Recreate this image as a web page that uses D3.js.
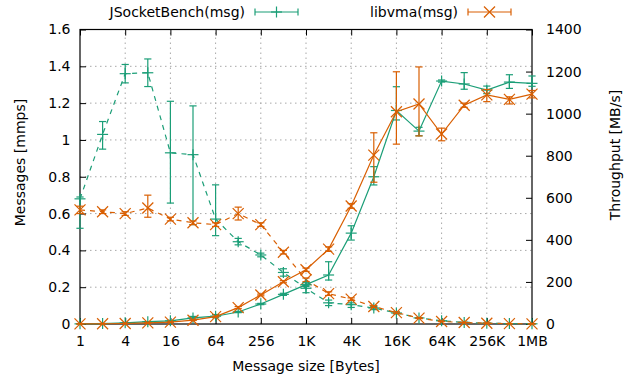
<!DOCTYPE html>
<html>
<head>
<meta charset="utf-8">
<script src="https://cdn.jsdelivr.net/npm/d3@7"></script>
<style>
html,body{margin:0;padding:0;background:#fff;}
text{font-family:"DejaVu Sans",sans-serif;fill:#000;}
</style>
</head>
<body>
<svg id="chart" width="629" height="379"></svg>
<script>
// message sizes: powers of two 2^0 .. 2^20 bytes
const exponents = d3.range(0, 21);
const sizes = exponents.map(e => Math.pow(2, e));
const xTickExps = [0, 2, 4, 6, 8, 10, 12, 14, 16, 18, 20];
const xTickLabels = ["1", "4", "16", "64", "256", "1K", "4K", "16K", "64K", "256K", "1MB"];
const yLeftTicks = [0, 0.2, 0.4, 0.6, 0.8, 1, 1.2, 1.4, 1.6];
const yRightTicks = [0, 200, 400, 600, 800, 1000, 1200, 1400];

// JSocketBench message rate [mmps]
const jsbMsg   = [0.68, 1.03, 1.36, 1.365, 0.93, 0.92, 0.57, 0.447, 0.375, 0.28, 0.194, 0.115, 0.105, 0.087, 0.06, 0.033, 0.0176, 0.0087, 0.0042, 0.0022, 0.0011];
const jsbMsgLo = [0.52, 0.95, 1.31, 1.29, 0.657, 0.54, 0.48, 0.43, 0.365, 0.26, 0.17, 0.10, 0.09, 0.078, 0.055, 0.031, 0.0165, 0.008, 0.004, 0.002, 0.001];
const jsbMsgHi = [0.69, 1.10, 1.41, 1.44, 1.21, 1.185, 0.756, 0.465, 0.385, 0.30, 0.21, 0.13, 0.115, 0.095, 0.065, 0.035, 0.0185, 0.009, 0.0045, 0.0023, 0.0012];

// libvma message rate [mmps]
const vmaMsg   = [0.62, 0.61, 0.60, 0.63, 0.57, 0.55, 0.54, 0.60, 0.54, 0.39, 0.24, 0.165, 0.135, 0.095, 0.062, 0.032, 0.0138, 0.0079, 0.0042, 0.002, 0.001];
const vmaMsgLo = [0.60, 0.60, 0.59, 0.58, 0.56, 0.54, 0.53, 0.565, 0.53, 0.38, 0.23, 0.155, 0.128, 0.09, 0.058, 0.03, 0.013, 0.0075, 0.004, 0.0019, 0.001];
const vmaMsgHi = [0.64, 0.62, 0.61, 0.70, 0.58, 0.56, 0.55, 0.635, 0.55, 0.40, 0.25, 0.175, 0.142, 0.10, 0.066, 0.034, 0.0145, 0.0082, 0.0044, 0.0021, 0.0011];

// JSocketBench throughput [MB/s]
const jsbTput   = [0.7, 2.1, 5.4, 11, 15, 29, 37, 57, 95, 141, 187, 233, 432, 700, 1015, 917, 1155, 1141, 1112, 1150, 1144];
const jsbTputLo = [0.6, 1.9, 5.2, 10.5, 12, 20, 30, 54, 92, 136, 178, 209, 399, 661, 970, 895, 1150, 1116, 1095, 1120, 1130];
const jsbTputHi = [0.8, 2.3, 5.6, 11.5, 18, 36, 45, 60, 98, 146, 196, 296, 467, 748, 1128, 935, 1160, 1195, 1131, 1185, 1179];

// libvma throughput [MB/s]
const vmaTput   = [0.6, 1.2, 2.4, 5, 9, 18, 35, 78, 138, 201, 258, 356, 561, 803, 1009, 1046, 903, 1040, 1089, 1068, 1093];
const vmaTputLo = [0.55, 1.15, 2.3, 4.6, 8.8, 17.5, 34, 73, 134, 196, 250, 345, 550, 674, 855, 894, 871, 1030, 1057, 1046, 1075];
const vmaTputHi = [0.65, 1.25, 2.5, 5.5, 9.2, 18.5, 36, 83, 142, 206, 266, 367, 572, 909, 1199, 1222, 931, 1050, 1115, 1080, 1110];

const seriesNames = ["JSocketBench(msg)", "libvma(msg)"];
const colors = ["#1b9e77", "#d95f02"];

const svg = d3.select("#chart");
const L = 80, R = 532, T = 29.5, B = 324;

const x = d3.scaleLog().base(2).domain([1, Math.pow(2, 20)]).range([L, R]);
const yL = d3.scaleLinear().domain([0, 1.6]).range([B, T]);
const yR = d3.scaleLinear().domain([0, 1400]).range([B, T]);

// grid
const grid = svg.append("g").attr("stroke", "#a8a8a8").attr("stroke-width", 1)
  .attr("stroke-dasharray", "1.5,3.5");
xTickExps.slice(1, -1).forEach(e => {
  grid.append("line").attr("x1", x(Math.pow(2, e))).attr("x2", x(Math.pow(2, e)))
    .attr("y1", B).attr("y2", T);
});
yLeftTicks.slice(1, -1).forEach(v => {
  grid.append("line").attr("x1", L).attr("x2", R).attr("y1", yL(v)).attr("y2", yL(v));
});

// axes
const fs = "14px";
const xAxis = d3.axisBottom(x).tickValues(xTickExps.map(e => Math.pow(2, e)))
  .tickFormat((d, i) => xTickLabels[i]).tickSizeInner(-6).tickSizeOuter(0).tickPadding(12);
const gx = svg.append("g").attr("transform", `translate(0,${B})`).call(xAxis);
const xTop = d3.axisTop(x).tickValues(xTickExps.map(e => Math.pow(2, e)))
  .tickFormat("").tickSizeInner(-6).tickSizeOuter(0);
const gxt = svg.append("g").attr("transform", `translate(0,${T})`).call(xTop);
const yAxisL = d3.axisLeft(yL).tickValues(yLeftTicks).tickFormat(d => String(+d.toFixed(1)))
  .tickSizeInner(-6).tickSizeOuter(0).tickPadding(9.5);
const gyl = svg.append("g").attr("transform", `translate(${L},0)`).call(yAxisL);
const yAxisR = d3.axisRight(yR).tickValues(yRightTicks).tickFormat(d => String(d))
  .tickSizeInner(-6).tickSizeOuter(0).tickPadding(14);
const gyr = svg.append("g").attr("transform", `translate(${R},0)`).call(yAxisR);
[gx, gxt, gyl, gyr].forEach(g => {
  g.select(".domain").remove();
  g.selectAll("text").style("font-size", fs).style("font-family", "DejaVu Sans");
  g.selectAll("line").attr("stroke", "#000");
});
// border
svg.append("rect").attr("x", L).attr("y", T).attr("width", R - L).attr("height", B - T)
  .attr("fill", "none").attr("stroke", "#000").attr("stroke-width", 1.2);

// axis titles
svg.append("text").attr("x", (L + R) / 2).attr("y", 371).attr("text-anchor", "middle")
  .style("font-size", fs).text("Message size [Bytes]");
svg.append("text").attr("transform", "translate(24.5,162.5) rotate(-90)").attr("text-anchor", "middle")
  .style("font-size", fs).text("Messages [mmps]");
svg.append("text").attr("transform", "translate(619.5,155) rotate(-90)").attr("text-anchor", "middle")
  .style("font-size", fs).text("Throughput [MB/s]");

// drawing helpers
function marker(g, cx, cy, kind, color) {
  const s = 5.5;
  if (kind === "plus") {
    g.append("line").attr("x1", cx - s).attr("x2", cx + s).attr("y1", cy).attr("y2", cy).attr("stroke", color);
    g.append("line").attr("x1", cx).attr("x2", cx).attr("y1", cy - s).attr("y2", cy + s).attr("stroke", color);
  } else {
    g.append("line").attr("x1", cx - s).attr("x2", cx + s).attr("y1", cy - s).attr("y2", cy + s).attr("stroke", color);
    g.append("line").attr("x1", cx - s).attr("x2", cx + s).attr("y1", cy + s).attr("y2", cy - s).attr("stroke", color);
  }
}
function drawSeries(vals, lo, hi, yScale, color, kind, dashed) {
  const g = svg.append("g").attr("stroke-width", 1.2).attr("fill", "none");
  const line = d3.line().x((d, i) => x(sizes[i])).y(d => yScale(d));
  g.append("path").attr("d", line(vals)).attr("stroke", color)
    .attr("stroke-dasharray", dashed ? "5,5" : null);
  const c = 3.6;
  vals.forEach((v, i) => {
    const cx = x(sizes[i]);
    const y1 = yScale(lo[i]), y2 = yScale(hi[i]);
    g.append("line").attr("x1", cx).attr("x2", cx).attr("y1", y1).attr("y2", y2).attr("stroke", color);
    g.append("line").attr("x1", cx - c).attr("x2", cx + c).attr("y1", y1).attr("y2", y1).attr("stroke", color);
    g.append("line").attr("x1", cx - c).attr("x2", cx + c).attr("y1", y2).attr("y2", y2).attr("stroke", color);
    marker(g, cx, yScale(v), kind, color);
  });
}

drawSeries(jsbMsg, jsbMsgLo, jsbMsgHi, yL, colors[0], "plus", true);
drawSeries(vmaMsg, vmaMsgLo, vmaMsgHi, yL, colors[1], "cross", true);
drawSeries(jsbTput, jsbTputLo, jsbTputHi, yR, colors[0], "plus", false);
drawSeries(vmaTput, vmaTputLo, vmaTputHi, yR, colors[1], "cross", false);

// legend
const legendItems = [
  {name: seriesNames[0], color: colors[0], kind: "plus", textEnd: 245, x1: 255, x2: 298},
  {name: seriesNames[1], color: colors[1], kind: "cross", textEnd: 458, x1: 468, x2: 511}
];
legendItems.forEach(it => {
  const ly = 12;
  svg.append("text").attr("x", it.textEnd).attr("y", ly + 5).attr("text-anchor", "end")
    .style("font-size", fs).text(it.name);
  const g = svg.append("g").attr("stroke-width", 1.2);
  g.append("line").attr("x1", it.x1).attr("x2", it.x2).attr("y1", ly).attr("y2", ly).attr("stroke", it.color);
  g.append("line").attr("x1", it.x1).attr("x2", it.x1).attr("y1", ly - 3.5).attr("y2", ly + 3.5).attr("stroke", it.color);
  g.append("line").attr("x1", it.x2).attr("x2", it.x2).attr("y1", ly - 3.5).attr("y2", ly + 3.5).attr("stroke", it.color);
  marker(g, (it.x1 + it.x2) / 2, ly, it.kind, it.color);
});
</script>
</body>
</html>
